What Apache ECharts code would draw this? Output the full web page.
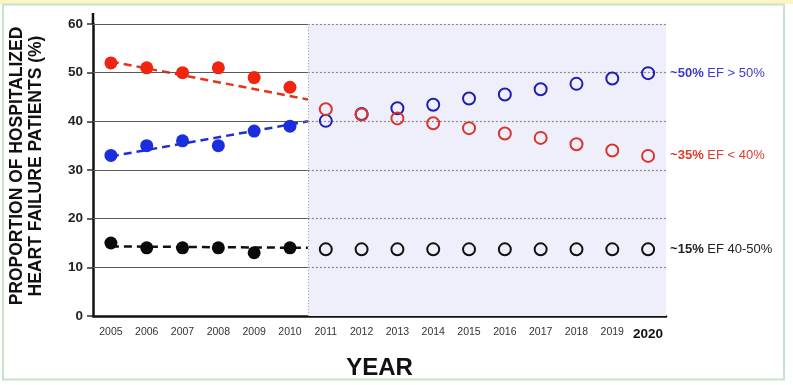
<!DOCTYPE html>
<html><head><meta charset="utf-8">
<script src="https://cdn.jsdelivr.net/npm/echarts@6/dist/echarts.min.js"></script>
<style>html,body{margin:0;padding:0;background:#fff}#c{width:793px;height:385px}</style>
</head><body><div id="c"></div>
<script>
const years = ['2005','2006','2007','2008','2009','2010','2011','2012','2013','2014','2015','2016','2017','2018','2019','2020'];
const yTicks = [0,10,20,30,40,50,60];
// observed (2005-2010)
const redObserved   = [52, 51, 50, 51, 49, 47];
const blueObserved  = [33, 35, 36, 35, 38, 39];
const blackObserved = [15, 14, 14, 14, 13, 14];
// projected (2011-2020)
const blueProjected  = [40.1, 41.5, 42.7, 43.4, 44.7, 45.5, 46.6, 47.7, 48.8, 49.9];
const redProjected   = [42.5, 41.4, 40.6, 39.6, 38.6, 37.5, 36.6, 35.3, 34.0, 32.9];
const blackProjected = [13.7, 13.7, 13.7, 13.7, 13.7, 13.7, 13.7, 13.7, 13.7, 13.7];
// trend line end points: [position in category bands, value]
const redTrend   = [[0.5, 52.3], [6, 44.5]];
const blueTrend  = [[0.5, 32.8], [6, 40.0]];
const blackTrend = [[0.5, 14.3], [6, 14.0]];
const endLabels = [
  {bold: '~50%', rest: ' EF > 50%', color: '#3b3bd0'},
  {bold: '~35%', rest: ' EF < 40%', color: '#e03a2c'},
  {bold: '~15%', rest: ' EF 40-50%', color: '#222'}
];

const nObs = redObserved.length;
const pad = arr => Array(nObs).fill(null).concat(arr);
const obsPad = arr => arr.concat(Array(years.length - nObs).fill(null));

function projSeries(data, color, lab) {
  return {
    type: 'line', data: pad(data), xAxisIndex: 0, yAxisIndex: 0,
    symbol: 'circle', symbolSize: 12, showSymbol: true,
    lineStyle: {width: 0, opacity: 0},
    itemStyle: {color: 'rgba(0,0,0,0)', borderColor: color, borderWidth: 2},
    label: {
      show: true, position: 'right', distance: 15,
      formatter: p => p.dataIndex === years.length - 1 ? '{b|' + lab.bold + '}{n|' + lab.rest + '}' : '',
      rich: {
        b: {fontFamily: 'Liberation Sans, Arial', fontWeight: 'bold', fontSize: 13, color: lab.color},
        n: {fontFamily: 'Liberation Sans, Arial', fontSize: 13, color: lab.color}
      }
    },
    z: 5, silent: true
  };
}
function obsSeries(data, color) {
  return {
    type: 'line', data: obsPad(data), xAxisIndex: 0, yAxisIndex: 0,
    symbol: 'circle', symbolSize: 13, lineStyle: {width: 0, opacity: 0},
    itemStyle: {color: color}, z: 5, silent: true
  };
}
function trendSeries(data, color) {
  return {
    type: 'line', data: data, xAxisIndex: 1, yAxisIndex: 0, symbol: 'none',
    lineStyle: {color: color, width: 2.5, type: [8, 5]}, z: 4, silent: true
  };
}
const gridSolid = yTicks.filter(v => v > 0).map(v => [{coord: [0, v]}, {coord: [6, v]}]);
const gridDotted = yTicks.filter(v => v > 0).map(v => [{coord: [6, v]}, {coord: [16, v]}]);

const chart = echarts.init(document.getElementById('c'), null, {renderer: 'canvas'});
chart.setOption({
  animation: false,
  backgroundColor: '#fff',
  graphic: [
    {type: 'rect', shape: {x: 0, y: 0, width: 793, height: 4}, style: {fill: '#fbf4c4'}, z: -10},
    {type: 'rect', shape: {x: 3, y: 4.5, width: 781, height: 375}, style: {fill: 'none', stroke: '#c6e4c8', lineWidth: 2}, z: -10}
  ],
  grid: {left: 86, right: 127, top: 24, bottom: 69},
  xAxis: [{
    type: 'category', data: years, boundaryGap: true,
    name: 'YEAR', nameLocation: 'middle', nameGap: 40,
    nameTextStyle: {fontFamily: 'Liberation Sans, Arial', fontWeight: 'bold', fontSize: 24, color: '#111'},
    axisLine: {lineStyle: {color: '#111', width: 2.5}},
    axisTick: {show: false},
    axisLabel: {
      interval: 0, margin: 11, fontFamily: 'Liberation Sans, Arial', fontSize: 10.5, color: '#333',
      formatter: v => v === '2020' ? '{b|' + v + '}' : v,
      rich: {b: {fontFamily: 'Liberation Sans, Arial', fontWeight: 'bold', fontSize: 13.5, color: '#111'}}
    },
    splitLine: {show: false}
  }, {
    type: 'value', min: 0, max: 16, show: false
  }],
  yAxis: {
    type: 'value', min: 0, max: 60, interval: 10,
    name: 'PROPORTION OF HOSPITALIZED\nHEART FAILURE PATIENTS (%)',
    nameLocation: 'middle', nameGap: 47, nameRotate: 90,
    nameTextStyle: {fontFamily: 'Liberation Sans, Arial', fontWeight: 'bold', fontSize: 17.5, color: '#111', lineHeight: 19, padding: [0, 0, 0, 8]},
    axisLine: {show: true, lineStyle: {color: '#111', width: 2.5}},
    axisTick: {show: true, length: 6, lineStyle: {color: '#333', width: 1.5}},
    axisLabel: {margin: 10, fontFamily: 'Liberation Sans, Arial', fontWeight: 'bold', fontSize: 13.5, color: '#222'},
    splitLine: {show: false}
  },
  series: [
    {
      type: 'line', data: [], xAxisIndex: 1, yAxisIndex: 0, silent: true,
      markArea: {silent: true, itemStyle: {color: '#efeffc'}, data: [[{coord: [6, 0]}, {coord: [16, 60]}]]},
      markLine: {
        silent: true, symbol: 'none', label: {show: false},
        data: gridSolid.map(d => d.map((p, i) => i === 0 ? Object.assign({lineStyle: {color: '#5a5a5a', width: 1.2, type: 'solid'}}, p) : p))
          .concat(gridDotted.map(d => d.map((p, i) => i === 0 ? Object.assign({lineStyle: {color: '#888', width: 1.2, type: [2, 2]}}, p) : p)))
          .concat([[{coord: [6, 0], lineStyle: {color: '#aaa', width: 1, type: [1, 2]}}, {coord: [6, 60]}]])
      },
      z: 1
    },
    trendSeries(redTrend, '#e8321e'),
    trendSeries(blueTrend, '#1f2fd0'),
    trendSeries(blackTrend, '#111'),
    obsSeries(redObserved, '#f0240f'),
    obsSeries(blueObserved, '#1a2ee0'),
    obsSeries(blackObserved, '#0a0a0a'),
    projSeries(blueProjected, '#1e1eb0', endLabels[0]),
    projSeries(redProjected, '#d8362c', endLabels[1]),
    projSeries(blackProjected, '#111', endLabels[2])
  ]
});
// extend the y axis line slightly above the top tick, as in the reference
const axisTopPx = chart.convertToPixel({xAxisIndex: 1, yAxisIndex: 0}, [0, 60]);
chart.setOption({graphic: [{}, {}, {
  type: 'line', shape: {x1: axisTopPx[0], y1: axisTopPx[1], x2: axisTopPx[0], y2: axisTopPx[1] - 11},
  style: {stroke: '#111', lineWidth: 2.5}, z: 10
}]});
</script></body></html>
